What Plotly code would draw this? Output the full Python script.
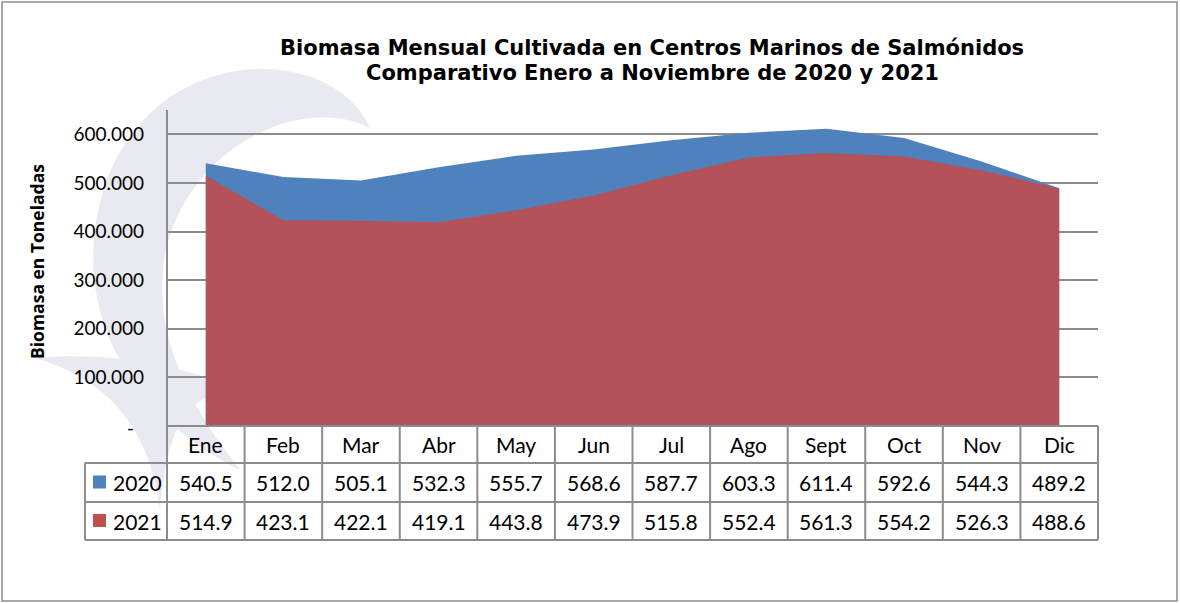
import plotly.graph_objects as go

months = ["Ene", "Feb", "Mar", "Abr", "May", "Jun", "Jul", "Ago", "Sept", "Oct", "Nov", "Dic"]
biomasa_2020 = [540.5, 512.0, 505.1, 532.3, 555.7, 568.6, 587.7, 603.3, 611.4, 592.6, 544.3, 489.2]
biomasa_2021 = [514.9, 423.1, 422.1, 419.1, 443.8, 473.9, 515.8, 552.4, 561.3, 554.2, 526.3, 488.6]
series_names = ["2020", "2021"]
y_tick_vals = [100000, 200000, 300000, 400000, 500000, 600000]
y_tick_text = ["100.000", "200.000", "300.000", "400.000", "500.000", "600.000"]

W, H = 1180, 603
L, R, T, B = 167, 1098, 110, 426  # plot area in pixels
PW, PH = R - L, B - T

def px(x):
    return (x - L) / PW

def py(y):
    return (B - y) / PH

def path_px(cmds):
    out = []
    for c in cmds:
        if isinstance(c, str):
            out.append(c)
        else:
            out.append(f"{px(c[0]):.5f},{py(c[1]):.5f}")
    return " ".join(out)

BLUE = "#4F81BD"
RED_AREA = "#B4525A"
RED_LEG = "#C0504D"
GRID = "#8C8C8C"
FONT = "Lato"
WM = "#E9E9F1"

x_idx = list(range(len(months)))

fig = go.Figure()
fig.add_trace(go.Scatter(x=x_idx, y=[v * 1000 for v in biomasa_2020], mode="lines",
                         line=dict(width=0, color=BLUE), fill="tozeroy",
                         fillcolor=BLUE, name="2020", showlegend=False, hoverinfo="skip"))
fig.add_trace(go.Scatter(x=x_idx, y=[v * 1000 for v in biomasa_2021], mode="lines",
                         line=dict(width=0, color=RED_AREA), fill="tozeroy",
                         fillcolor=RED_AREA, name="2021", showlegend=False, hoverinfo="skip"))

shapes = []
annotations = []

# faint watermark crescent (background decoration)
crescent = path_px(["M", (370, 128), "C", (330, 35), (120, 40), (95, 230),
                    "C", (82, 330), (140, 420), (240, 470),
                    "C", (185, 400), (152, 330), (165, 255),
                    "C", (185, 150), (300, 92), (370, 128), "Z"])
shapes.append(dict(type="path", xref="paper", yref="paper", path=crescent,
                   fillcolor=WM, line=dict(width=0), layer="below"))
tail = path_px(["M", (35, 358), "C", (120, 350), (200, 370), (250, 395),
                "C", (200, 390), (170, 400), (160, 510),
                "C", (150, 430), (110, 380), (35, 358), "Z"])
shapes.append(dict(type="path", xref="paper", yref="paper", path=tail,
                   fillcolor=WM, line=dict(width=0), layer="below"))

# outer border
shapes.append(dict(type="rect", xref="paper", yref="paper",
                   x0=px(2), x1=px(1177), y0=py(2), y1=py(601),
                   line=dict(color="#8C8C8C", width=1.5), layer="below"))

# table geometry
rows_px = [426, 463, 502, 540]
leg_left = 85
n = len(months)
col_edges = [i / n for i in range(n + 1)]

# horizontal lines
shapes.append(dict(type="line", xref="paper", yref="paper", x0=0, x1=1,
                   y0=py(rows_px[0]), y1=py(rows_px[0]), line=dict(color=GRID, width=2)))
for r in rows_px[1:]:
    shapes.append(dict(type="line", xref="paper", yref="paper", x0=px(leg_left), x1=1,
                       y0=py(r), y1=py(r), line=dict(color=GRID, width=2)))
# vertical lines
for ce in col_edges:
    shapes.append(dict(type="line", xref="paper", yref="paper", x0=ce, x1=ce,
                       y0=py(rows_px[0]), y1=py(rows_px[-1]), line=dict(color=GRID, width=2)))
shapes.append(dict(type="line", xref="paper", yref="paper", x0=px(leg_left), x1=px(leg_left),
                   y0=py(rows_px[1]), y1=py(rows_px[-1]), line=dict(color=GRID, width=2)))
# y axis line extends from top
shapes.append(dict(type="line", xref="paper", yref="paper", x0=0, x1=0,
                   y0=0, y1=1, line=dict(color=GRID, width=2)))

TF = 21
# header texts
for i, m in enumerate(months):
    annotations.append(dict(x=(i + 0.5) / n, y=py((rows_px[0] + rows_px[1]) / 2), xref="paper", yref="paper",
                            text=m, showarrow=False, font=dict(family=FONT, size=TF, color="#000000"),
                            xanchor="center", yanchor="middle"))
for r, (vals, nm, col) in enumerate([(biomasa_2020, series_names[0], BLUE), (biomasa_2021, series_names[1], RED_LEG)]):
    yc = (rows_px[r + 1] + rows_px[r + 2]) / 2
    for i, v in enumerate(vals):
        annotations.append(dict(x=(i + 0.5) / n, y=py(yc), xref="paper", yref="paper",
                                text=f"{v:.1f}", showarrow=False,
                                font=dict(family=FONT, size=TF, color="#000000"),
                                xanchor="center", yanchor="middle"))
    shapes.append(dict(type="rect", xref="paper", yref="paper",
                       x0=px(93), x1=px(106), y0=py(yc - 7), y1=py(yc + 6),
                       fillcolor=col, line=dict(width=0)))
    annotations.append(dict(x=px(111), y=py(yc), xref="paper", yref="paper",
                            text=nm, showarrow=False, font=dict(family=FONT, size=TF, color="#000000"),
                            xanchor="left", yanchor="middle"))

# zero label
annotations.append(dict(x=px(130), y=py(427), xref="paper", yref="paper", text="-",
                        showarrow=False, font=dict(family=FONT, size=19, color="#000000"),
                        xanchor="center", yanchor="middle"))

# title
annotations.append(dict(x=px(652), y=py(48), xref="paper", yref="paper",
                        text="<b>Biomasa Mensual Cultivada en Centros Marinos de Salmónidos</b>",
                        showarrow=False, font=dict(family="DejaVu Sans", size=21, color="#000000"),
                        xanchor="center", yanchor="middle"))
annotations.append(dict(x=px(652), y=py(73), xref="paper", yref="paper",
                        text="<b>Comparativo Enero a Noviembre de 2020 y 2021</b>",
                        showarrow=False, font=dict(family="DejaVu Sans", size=21, color="#000000"),
                        xanchor="center", yanchor="middle"))
# y-axis title
annotations.append(dict(x=px(37), y=py(262), xref="paper", yref="paper",
                        text="<b>Biomasa en Toneladas</b>", textangle=-90,
                        showarrow=False, font=dict(family="Open Sans", size=17.5, color="#000000"),
                        xanchor="center", yanchor="middle"))

fig.update_layout(
    width=W, height=H,
    margin=dict(l=L, r=W - R, t=T, b=H - B, pad=0),
    paper_bgcolor="white", plot_bgcolor="rgba(0,0,0,0)",
    shapes=shapes, annotations=annotations,
    xaxis=dict(range=[-0.5, n - 0.5], showgrid=False, zeroline=False, showticklabels=False,
               showline=False, fixedrange=True),
    yaxis=dict(range=[0, 650000], tickvals=y_tick_vals, ticktext=y_tick_text,
               showgrid=True, gridcolor=GRID, gridwidth=2, zeroline=False, showline=False,
               tickfont=dict(family=FONT, size=19, color="#000000"), ticks="", ticklen=0,
               ticklabelstandoff=22, layer="below traces", fixedrange=True),
    showlegend=False,
)

fig.write_html("out.html", config={"displayModeBar": False},
               post_script="document.body.style.margin='0';")
